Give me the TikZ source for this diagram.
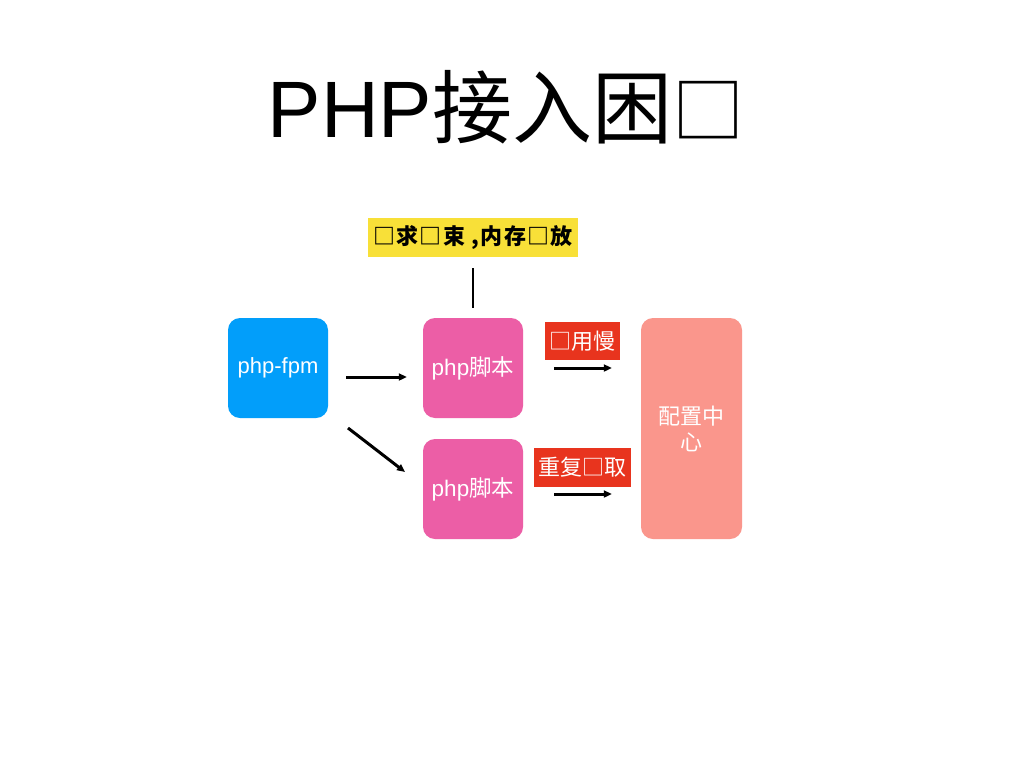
\documentclass[tikz,border=0pt]{standalone}
\usepackage{fontspec}
\setmainfont{Liberation Sans}
\newfontfamily\cjk{Noto Sans CJK SC}
\newfontfamily\cjkspaced[LetterSpace=6]{Noto Sans CJK SC}
\usetikzlibrary{arrows.meta}
\definecolor{fpmblue}{RGB}{2,158,250}
\definecolor{scriptpink}{RGB}{236,94,166}
\definecolor{labelred}{RGB}{232,52,30}
\definecolor{cfgsalmon}{RGB}{250,150,140}
\definecolor{noteyellow}{RGB}{248,224,56}
\tikzset{
  box/.style={rounded corners=12pt, inner sep=0pt, text=white, align=center,
    font=\fontsize{22.5}{26}\selectfont},
  tag/.style={fill=labelred, inner sep=0pt, text=white,
    font=\cjk\fontsize{22}{26}\selectfont},
  arr/.style={line width=3pt, -{Triangle[length=8pt,width=7pt]}},
}
\begin{document}
\begin{tikzpicture}[x=1pt,y=-1pt]
\useasboundingbox[fill=white] (0,0) rectangle (1024,768);
\node[font=\fontsize{80}{96}\selectfont, inner sep=0pt] (title) at (506,107) {PHP{\cjk 接入困}{\cjk\fontsize{72}{96}\selectfont □}};
\node[fill=noteyellow, minimum width=210pt, minimum height=39pt, inner sep=0pt,
  font=\cjkspaced\bfseries\fontsize{22}{26}\selectfont] (note) at (473,237.5) {□求□束 ,内存□放};
\node[box, fill=fpmblue, minimum width=100pt, minimum height=100pt, font=\fontsize{22}{26}\selectfont] (fpm) at (278,368) {php-fpm};
\node[box, fill=scriptpink, minimum width=100pt, minimum height=100pt] (s1) at (473,368) {php{\cjk 脚本}};
\node[box, fill=scriptpink, minimum width=100pt, minimum height=100pt] (s2) at (473,489) {php{\cjk 脚本}};
\node[box, fill=cfgsalmon, minimum width=101pt, minimum height=221pt, font=\cjk\fontsize{22}{26}\selectfont] (cfg) at (691.5,428.5) {配置中\\心};
\node[tag, minimum width=75pt, minimum height=38pt] (t1) at (582.5,341) {□用慢};
\node[tag, minimum width=97pt, minimum height=39pt] (t2) at (582.5,467.5) {重复□取};
\coordinate (a2s) at (348,428);
\coordinate (a2e) at (405,472);
\draw[line width=1.6pt, shorten <=11pt, shorten >=10pt] (note.south) -- (s1.north);
\draw[arr, shorten <=18pt, shorten >=16pt] ([yshift=-9pt]fpm.east) -- ([yshift=-9pt]s1.west);
\draw[arr] (a2s) -- (a2e);
\draw[arr, shorten <=31pt, shorten >=29pt] (s1.east) -- (s1.east -| cfg.west);
\draw[arr, shorten <=31pt, shorten >=29pt] ([yshift=-5pt]s2.east) -- ([yshift=-5pt]s2.east -| cfg.west);
\end{tikzpicture}
\end{document}
